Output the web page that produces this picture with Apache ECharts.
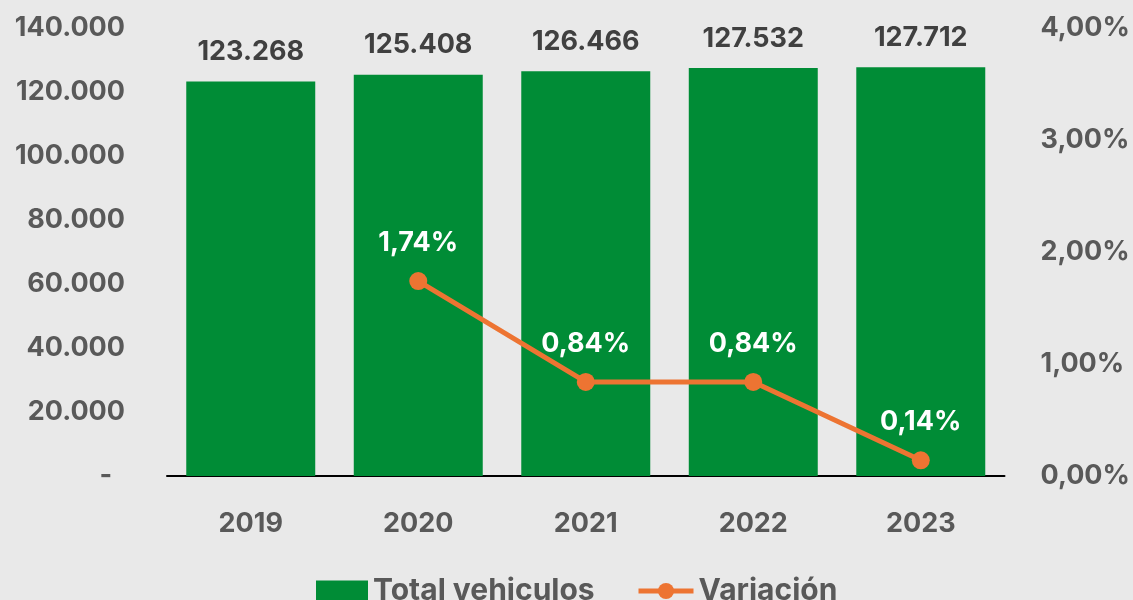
<!DOCTYPE html>
<html>
<head>
<meta charset="utf-8">
<script src="https://cdn.jsdelivr.net/npm/echarts@6/dist/echarts.min.js"></script>
<style>
  html, body { margin: 0; padding: 0; background: #e9e9e9; }
  #main { width: 1133px; height: 600px; }
</style>
</head>
<body>
<div id="main"></div>
<script>
// datos del gráfico
var years = ["2019", "2020", "2021", "2022", "2023"];
var totalVehiculos = [123268, 125408, 126466, 127532, 127712];
var variacion = [null, 1.74, 0.84, 0.84, 0.14];

var font = "Inter";
var gris = "#595959";
var naranja = "#ed7432";

function miles(v) {
  if (v === 0) return "-  ";
  return String(v).replace(/\B(?=(\d{3})+(?!\d))/g, ".");
}
function pct(v) {
  return v.toFixed(2).replace(".", ",") + "%";
}

var myChart = echarts.init(document.getElementById("main"));

var legendText = { fontSize: 30, fontWeight: "bold", color: gris, fontFamily: font };

var option = {
  backgroundColor: "#e9e9e9",
  textStyle: { fontFamily: font },
  grid: { left: 167, right: 126, top: 28, bottom: 124 },
  legend: [
    {
      top: 571,
      left: 311,
      itemWidth: 52,
      itemHeight: 21,
      textStyle: legendText,
      data: [{ name: "Total vehiculos", icon: "rect" }]
    },
    {
      top: 571,
      left: 631,
      itemWidth: 55,
      itemHeight: 20,
      lineStyle: { width: 5 },
      textStyle: legendText,
      data: ["Variación"]
    }
  ],
  xAxis: {
    type: "category",
    data: years,
    axisLine: { lineStyle: { color: "#000", width: 2 } },
    axisTick: { show: false },
    axisLabel: { margin: 34, fontSize: 27, fontWeight: "bold", color: gris }
  },
  yAxis: [
    {
      type: "value",
      min: 0,
      max: 140000,
      interval: 20000,
      splitLine: { show: false },
      axisLine: { show: false },
      axisLabel: { margin: 42, fontSize: 27, fontWeight: "bold", color: gris, formatter: miles }
    },
    {
      type: "value",
      min: 0,
      max: 4,
      interval: 1,
      splitLine: { show: false },
      axisLine: { show: false },
      axisLabel: { margin: 36, fontSize: 27, fontWeight: "bold", color: gris, formatter: pct }
    }
  ],
  series: [
    {
      name: "Total vehiculos",
      type: "bar",
      data: totalVehiculos,
      barWidth: "77%",
      itemStyle: { color: "#008c36" },
      label: {
        show: true,
        position: "top",
        distance: 16,
        fontSize: 27,
        fontWeight: "bold",
        color: "#404040",
        formatter: function (p) { return miles(p.value); }
      }
    },
    {
      name: "Variación",
      type: "line",
      yAxisIndex: 1,
      data: variacion,
      symbol: "circle",
      symbolSize: 18,
      itemStyle: { color: naranja },
      lineStyle: { color: naranja, width: 5 },
      label: {
        show: true,
        position: "top",
        distance: 16,
        fontSize: 27,
        fontWeight: "bold",
        color: "#fff",
        formatter: function (p) { return pct(p.value); }
      }
    }
  ]
};

myChart.setOption(option);
</script>
</body>
</html>
